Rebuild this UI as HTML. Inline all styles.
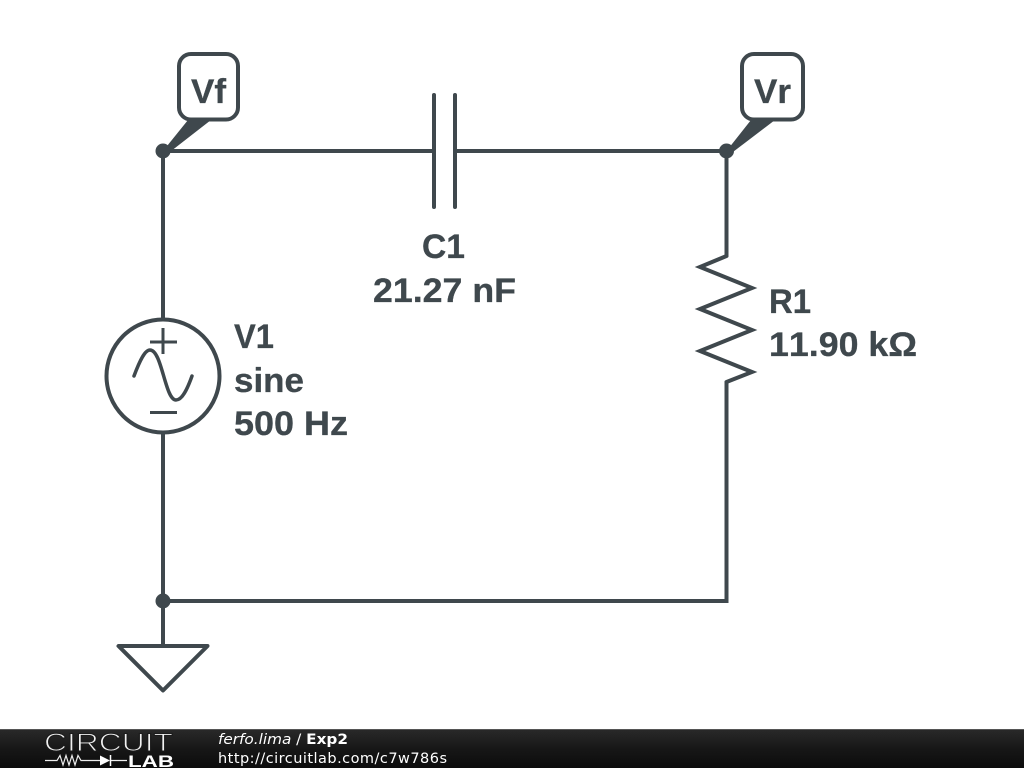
<!DOCTYPE html>
<html>
<head>
<meta charset="utf-8">
<style>
html,body{margin:0;padding:0;background:#fff;width:1024px;height:768px;overflow:hidden}
svg{display:block}
.l{font-family:"Liberation Sans",sans-serif;font-weight:700;font-size:34.5px;fill:#3f484d;stroke:#3f484d;stroke-width:0.3px;font-kerning:none}
.f{font-family:"DejaVu Sans",sans-serif;font-size:14.5px;fill:#fff}
</style>
</head>
<body>
<svg width="1024" height="768" viewBox="0 0 1024 768" xmlns="http://www.w3.org/2000/svg">
<defs>
<linearGradient id="g" x1="0" y1="0" x2="0" y2="1">
<stop offset="0" stop-color="#2a2a2a"/>
<stop offset="0.5" stop-color="#171717"/>
<stop offset="1" stop-color="#0c0c0c"/>
</linearGradient>
</defs>
<rect width="1024" height="768" fill="#fff"/>
<g fill="none" stroke="#3f484d" stroke-width="4" stroke-linecap="round" stroke-linejoin="miter">
<!-- wires -->
<path d="M163 151H433M455 151H726.500V256M726.500 382V601H163M163 151V319M163 432V646" stroke-linecap="butt"/>
<!-- capacitor -->
<path d="M434 95V207M455 95V207"/>
<!-- resistor -->
<path d="M726.500 256L700 267L752 288L700 309L752 330L700 351L752 372L726.500 382"/>
<!-- source -->
<circle cx="163" cy="376" r="56.500"/>
<path d="M150 342H177M163 328V354M150 412.500H177" stroke-linecap="butt" stroke-width="3"/>
<path d="M134 376C140 360 145 350 150 350C162 350 165 400 176 400C182 400 187 390 192 376" stroke-width="3.500"/>
<!-- ground -->
<path d="M118.500 646H207.500L163 690.500Z" stroke-linejoin="round"/>
<!-- probes -->
<rect x="179" y="54" width="59" height="65.500" rx="12"/>
<rect x="742" y="54" width="61" height="65.500" rx="12"/>
</g>
<g fill="#3f484d">
<circle cx="163" cy="151" r="7.500"/>
<circle cx="726.500" cy="151" r="7.500"/>
<circle cx="163" cy="601" r="7.500"/>
<path d="M163 151L188 120H211L166 155Z"/>
<path d="M726.500 151L751 120H775L729 155Z"/>
</g>
<text class="l" x="191" y="103" textLength="35" lengthAdjust="spacingAndGlyphs">Vf</text>
<text class="l" x="754" y="103" textLength="37" lengthAdjust="spacingAndGlyphs">Vr</text>
<text class="l" x="422" y="258" textLength="43" lengthAdjust="spacingAndGlyphs">C1</text>
<text class="l" x="373" y="302" textLength="143" lengthAdjust="spacingAndGlyphs">21.27 nF</text>
<text class="l" x="769" y="313" textLength="42" lengthAdjust="spacingAndGlyphs">R1</text>
<text class="l" x="769" y="356" textLength="148" lengthAdjust="spacingAndGlyphs">11.90 kΩ</text>
<text class="l" x="234" y="348" textLength="40" lengthAdjust="spacingAndGlyphs">V1</text>
<text class="l" x="234" y="392" textLength="70" lengthAdjust="spacingAndGlyphs">sine</text>
<text class="l" x="234" y="435" textLength="114" lengthAdjust="spacingAndGlyphs">500 Hz</text>
<!-- footer -->
<rect y="729" width="1024" height="39" fill="url(#g)"/>
<rect y="729" width="1024" height="1" fill="#555"/>
<text x="44" y="751" font-family="'Liberation Sans',sans-serif" font-size="25" fill="#f2f2f2" stroke="#1c1c1c" stroke-width="1" paint-order="fill stroke" textLength="129" lengthAdjust="spacingAndGlyphs">CIRCUIT</text>
<path d="M45 760.500H57L60 755.500L63 765L66 755.500L69 765L72 755.500L75 765L78 755.500L81 760.500H100M111 760.500H127" fill="none" stroke="#eee" stroke-width="1.200"/>
<path d="M100 755.500L110 760.500L100 765.500Z" fill="#fff"/>
<path d="M110.500 755V766" stroke="#fff" stroke-width="1.500"/>
<text x="128" y="767" font-family="'Liberation Sans',sans-serif" font-size="17" font-weight="700" fill="#fff" textLength="46" lengthAdjust="spacingAndGlyphs">LAB</text>
<text class="f" x="218" y="744" textLength="130" lengthAdjust="spacingAndGlyphs"><tspan font-style="italic">ferfo.lima</tspan> / <tspan font-weight="700">Exp2</tspan></text>
<text class="f" x="218" y="763" textLength="229">http://circuitlab.com/c7w786s</text>
</svg>
</body>
</html>
